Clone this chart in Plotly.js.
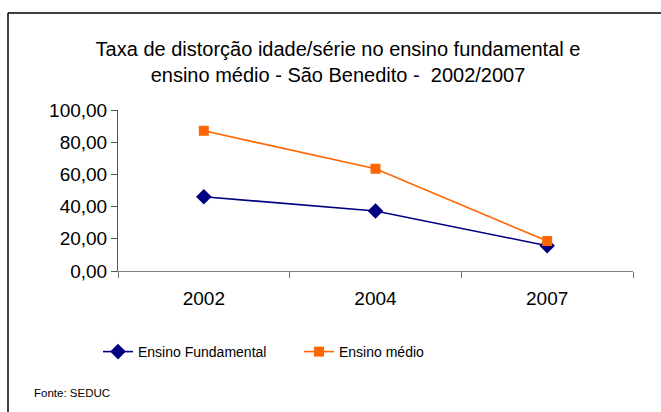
<!DOCTYPE html>
<html>
<head>
<meta charset="utf-8">
<script src="https://cdn.plot.ly/plotly-3.0.1.min.js"></script>
<style>
html,body{margin:0;padding:0;background:#fff;}
#chart{width:661px;height:412px;}
</style>
</head>
<body>
<div id="chart"></div>
<script>
var years = ["2002", "2004", "2007"];
var fundamental = [46.1, 37.3, 15.7];
var medio = [87.1, 63.5, 18.6];
var seriesNames = ["Ensino Fundamental", "Ensino médio"];
var yTicks = [0, 20, 40, 60, 80, 100];

var W = 661, H = 412;
var M = {l: 118, r: 28, t: 110, b: 141};
var pw = W - M.l - M.r, ph = H - M.t - M.b;
function px(x){ return (x - M.l) / pw; }
function py(y){ return (H - M.b - y) / ph; }

var font = '"Liberation Sans", Arial, sans-serif';

var traces = [
  {
    x: years, y: fundamental, name: seriesNames[0], type: 'scatter', mode: 'lines+markers',
    line: {color: '#000080', width: 1.6},
    marker: {symbol: 'diamond', size: 12, color: '#000080'}
  },
  {
    x: years, y: medio, name: seriesNames[1], type: 'scatter', mode: 'lines+markers',
    line: {color: '#FF6600', width: 1.6},
    marker: {symbol: 'square', size: 10, color: '#FF6600'}
  }
];

var layout = {
  width: W, height: H,
  margin: M,
  paper_bgcolor: '#fff', plot_bgcolor: '#fff',
  separators: ',.',
  font: {family: font, color: '#000'},
  showlegend: true,
  title: {
    text: 'Taxa de distorção idade/série no ensino fundamental e<br>ensino médio - São Benedito -  2002/2007',
    font: {family: font, size: 20, color: '#000'},
    xref: 'container', x: 338 / W, xanchor: 'center',
    yref: 'container', y: 1 - 56 / H, yanchor: 'top'
  },
  xaxis: {
    type: 'category', range: [-0.5, 2.5],
    tickson: 'boundaries', ticks: 'outside', ticklen: 6, tickcolor: '#707070',
    showline: true, linecolor: '#808080', linewidth: 1,
    showgrid: false, zeroline: false,
    tickfont: {family: font, size: 19, color: '#000'},
    ticklabelstandoff: 10,
    fixedrange: true
  },
  yaxis: {
    range: [0, 100], tickvals: yTicks, tickformat: '.2f',
    ticks: 'outside', ticklen: 6, tickcolor: '#555',
    showline: true, linecolor: '#555', linewidth: 1,
    showgrid: false, zeroline: false,
    tickfont: {family: font, size: 19, color: '#000'},
    fixedrange: true
  },
  legend: {
    orientation: 'h',
    x: px(98), xanchor: 'left',
    y: py(352), yanchor: 'middle',
    font: {family: font, size: 14, color: '#000'},
    entrywidth: 156, entrywidthmode: 'pixels',
    bgcolor: 'rgba(0,0,0,0)'
  },
  annotations: [
    {
      text: 'Fonte: SEDUC', showarrow: false,
      xref: 'paper', yref: 'paper', x: px(32), y: py(393),
      xanchor: 'left', yanchor: 'middle',
      font: {family: font, size: 11.5, color: '#000'}
    }
  ],
  shapes: [
    {type: 'line', xref: 'paper', yref: 'paper', x0: px(8), x1: px(661), y0: py(13), y1: py(13), line: {color: '#000', width: 1.5}},
    {type: 'line', xref: 'paper', yref: 'paper', x0: px(8), x1: px(8), y0: py(13), y1: py(412), line: {color: '#000', width: 1.5}}
  ]
};

Plotly.newPlot('chart', traces, layout, {displayModeBar: false, staticPlot: true});
</script>
</body>
</html>
